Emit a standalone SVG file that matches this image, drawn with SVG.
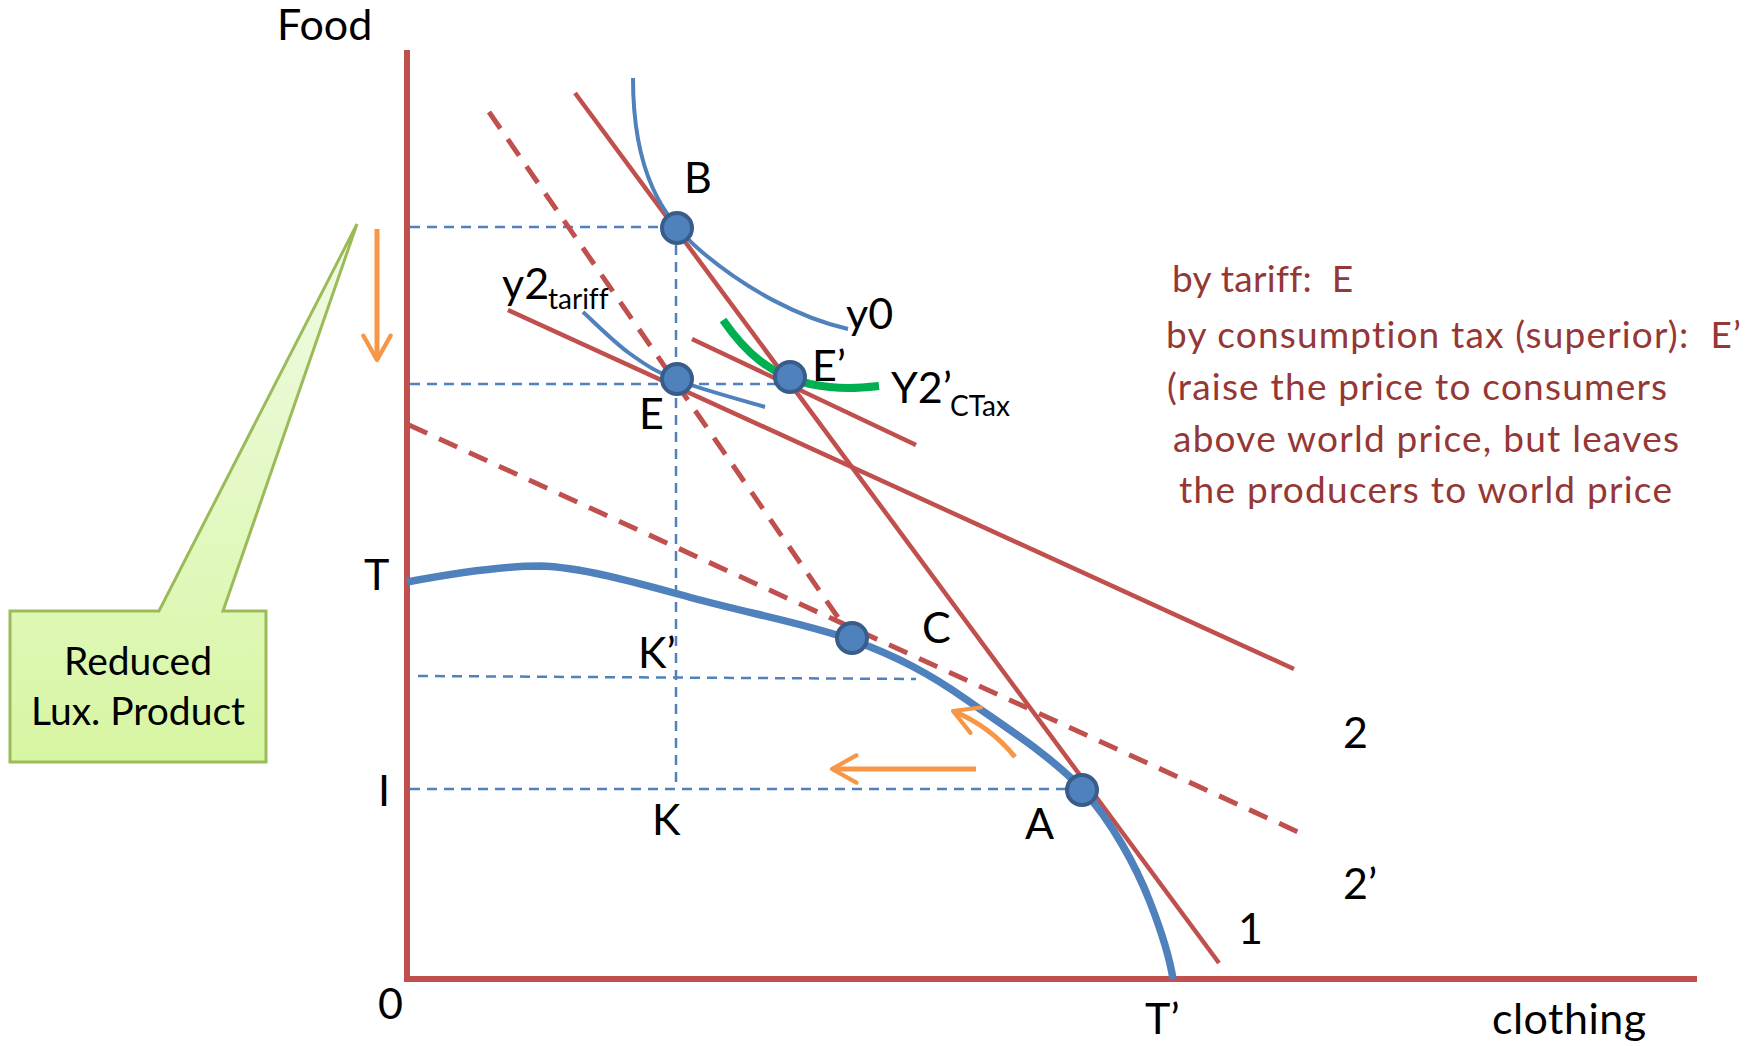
<svg xmlns="http://www.w3.org/2000/svg" width="1754" height="1046" viewBox="0 0 1754 1046">
<style>
text{font-variant-ligatures:none}
.lbl{font-family:Lato,"Liberation Sans",sans-serif;font-size:43px;fill:#000}
.sub{font-family:Lato,"Liberation Sans",sans-serif;font-size:28px;fill:#000}
.note{font-family:Lato,"Liberation Sans",sans-serif;font-size:37px;fill:#953735}
.call{font-family:Lato,"Liberation Sans",sans-serif;font-size:39px;fill:#000}
.axis{stroke:#C0504D;stroke-width:6;fill:none}
.rl{stroke:#C0504D;stroke-width:4.5;fill:none}
.rd{stroke:#C0504D;stroke-width:5;fill:none;stroke-dasharray:20 13}
.bd{stroke:#4F81BD;stroke-width:2.5;fill:none;stroke-dasharray:10 7}
.ic{stroke:#4F81BD;stroke-width:4;fill:none}
.ppf{stroke:#4F81BD;stroke-width:7.5;fill:none}
.pt{fill:#4F81BD;stroke:#385D8A;stroke-width:4}
.or{stroke:#F79646;stroke-width:5;fill:none;marker-end:url(#chev)}
</style>
<defs>
<marker id="chev" viewBox="0 0 10 10" refX="9" refY="5" markerWidth="6.5" markerHeight="6.5" orient="auto" markerUnits="strokeWidth">
<polyline points="1.5,0.8 9,5 1.5,9.2" fill="none" stroke="#F79646" stroke-width="1.3" stroke-linecap="round" stroke-linejoin="round"/>
</marker>
<linearGradient id="cg" gradientUnits="userSpaceOnUse" x1="0" y1="224" x2="0" y2="762">
<stop offset="0" stop-color="#F0FBE6"/>
<stop offset="1" stop-color="#D7F6A2"/>
</linearGradient>
</defs>

<g id="connectors">
<line class="axis" x1="407" y1="50" x2="407" y2="979"/>
<line class="axis" x1="404" y1="979" x2="1697" y2="979"/>
<line class="bd" x1="410" y1="227" x2="677" y2="227"/>
<line class="bd" x1="676" y1="228" x2="676" y2="788"/>
<line class="bd" x1="410" y1="384" x2="790" y2="384"/>
<line class="bd" x1="418" y1="676" x2="916" y2="679"/>
<line class="bd" x1="410" y1="789" x2="1075" y2="789"/>
<line class="rd" x1="489" y1="112" x2="848" y2="632"/>
<line class="rd" x1="409" y1="425" x2="1309" y2="837"/>
<line class="rl" x1="575" y1="93" x2="1219" y2="963"/>
<line class="rl" x1="508" y1="310" x2="1294" y2="669"/>
<line class="rl" x1="692" y1="339" x2="916" y2="445"/>
<path class="ppf" d="M407,582 C450,574 500,566 540,566 C585,567 648,586 700,600 C752,614 807.5,624 852,640 C896.5,656 930,674 967,700 C1005,727 1050,755 1083,790 C1112,822 1136,866 1150,902 C1164,938 1170,960 1173,979"/>
<path class="ic" d="M633,78 C633,172 662,218 702,252 C747,290 800,318 848,329"/>
<path class="ic" d="M583,312 C590.7,318.8 613.3,341.7 629,353 C644.7,364.3 654.3,371 677,380 C699.7,389 750.3,402.5 765,407"/>
<path d="M723,320 C745,352 770,375 810,384 C840,390 860,388 879,386" stroke="#00B050" stroke-width="8" fill="none"/>
<line class="or" x1="377" y1="229" x2="377" y2="360"/>
<line class="or" x1="976" y1="769" x2="832" y2="769"/>
<path class="or" d="M1015,757 Q990,726 953,711"/>
</g>

<g id="point-B"><circle class="pt" cx="677" cy="228" r="15"/><text class="lbl" x="684" y="193">B</text></g>
<g id="point-E"><circle class="pt" cx="677" cy="379" r="15"/><text class="lbl" x="639" y="429">E</text></g>
<g id="point-Eprime"><circle class="pt" cx="790" cy="377" r="15"/><text class="lbl" x="812" y="381">E’</text></g>
<g id="point-C"><circle class="pt" cx="852" cy="638" r="15"/><text class="lbl" x="922" y="643">C</text></g>
<g id="point-A"><circle class="pt" cx="1082" cy="790" r="15"/><text class="lbl" x="1025" y="839">A</text></g>

<g id="labels">
<text class="lbl" x="277" y="40">Food</text>
<text class="lbl" x="846" y="329">y0</text>
<text class="lbl" x="891" y="403">Y2’<tspan class="sub" x="950" y="416">CTax</tspan></text>
<text class="lbl" x="502" y="299">y2<tspan class="sub" x="548" y="309">tariff</tspan></text>
<text class="lbl" x="364" y="590">T</text>
<text class="lbl" x="638" y="668">K’</text>
<text class="lbl" x="652" y="835">K</text>
<text class="lbl" x="378" y="806">I</text>
<text class="lbl" x="378" y="1019">0</text>
<text class="lbl" x="1145" y="1034">T’</text>
<text class="lbl" x="1492" y="1034" textLength="154">clothing</text>
<text class="lbl" x="1343" y="748">2</text>
<text class="lbl" x="1343" y="899">2’</text>
<text class="lbl" x="1238" y="944">1</text>
</g>

<g id="note">
<text class="note" x="1172" y="292" textLength="181">by tariff:&#160; E</text>
<text class="note" x="1166" y="348" textLength="575">by consumption tax (superior):&#160; E’</text>
<text class="note" x="1167" y="400" textLength="500">(raise the price to consumers</text>
<text class="note" x="1173" y="452" textLength="506">above world price, but leaves</text>
<text class="note" x="1179" y="503" textLength="493">the producers to world price</text>
</g>

<g id="callout">
<path d="M10,611 L159,611 L357,224 L223,611 L266,611 L266,762 L10,762 Z" fill="url(#cg)" stroke="#9BBB59" stroke-width="3"/>
<text class="call" x="138" y="675" text-anchor="middle">Reduced</text>
<text class="call" x="138" y="725" text-anchor="middle">Lux. Product</text>
</g>
</svg>
